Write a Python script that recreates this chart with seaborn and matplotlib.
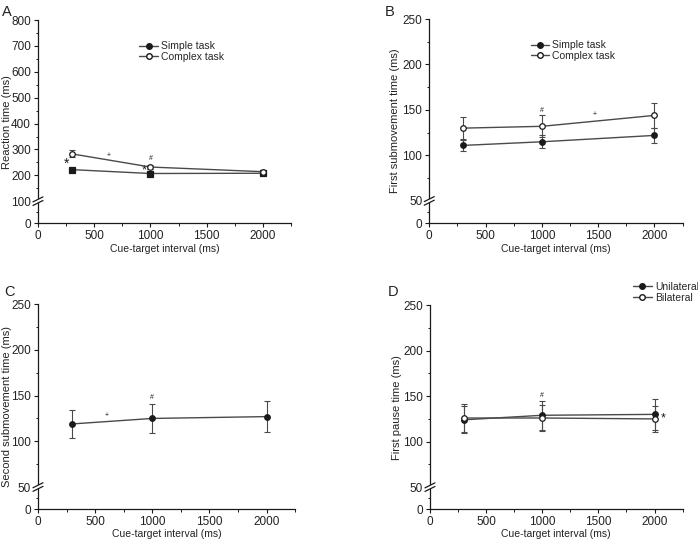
import numpy as np
import matplotlib
matplotlib.use('Agg')
import matplotlib.pyplot as plt
import matplotlib.transforms as mtransforms
from matplotlib.lines import Line2D
from matplotlib.patches import Polygon
from matplotlib.ticker import MultipleLocator
import seaborn as sns

cti = [300, 1000, 2000]

# A: reaction time
rt_simple = [222, 207, 208]
rt_simple_err = [4, 5, 5]
rt_complex = [283, 232, 214]
rt_complex_err = [13, 8, 6]

# B: first submovement time
fst_simple = [111, 115, 122]
fst_simple_err = [6, 7, 8]
fst_complex = [130, 132, 144]
fst_complex_err = [12, 12, 14]

# C: second submovement time
sst = [119, 125, 127]
sst_err = [15, 16, 17]

# D: first pause time
fpt_uni = [124, 129, 130]
fpt_uni_err = [15, 16, 17]
fpt_bi = [126, 126, 125]
fpt_bi_err = [15, 14, 14]

LINE = '#4a4a4a'
INK = '#1a1a1a'
MS = 4


def broken_scale(ax, brk, k):
  def fwd(y):
    y = np.asarray(y, float)
    return np.where(y < brk, y * k, brk * k + (y - brk))

  def inv(y):
    y = np.asarray(y, float)
    return np.where(y < brk * k, y / k, y - brk * k + brk)

  ax.set_yscale('function', functions=(fwd, inv))


def break_mark(fig, ax, brk):
  trans = fig.dpi_scale_trans + mtransforms.ScaledTranslation(0, brk, ax.get_yaxis_transform())
  w, s, g = 0.05, 0.025, 0.018
  poly = Polygon([(-w, -s - g), (w, s - g), (w, s + g), (-w, -s + g)], closed=True,
                 facecolor='white', edgecolor='none', transform=trans, clip_on=False, zorder=5)
  ax.add_patch(poly)
  for off in (-g, g):
    ax.add_line(Line2D([-w, w], [-s + off, s + off], color=INK, lw=0.9,
                       transform=trans, clip_on=False, zorder=6))


def series(ax, y, err, marker, filled, label=None):
  sns.lineplot(x=cti, y=y, ax=ax, color=LINE, lw=1.0, marker=marker, markersize=MS,
               markerfacecolor=INK if filled else 'white', markeredgecolor=INK,
               markeredgewidth=0.9, label=label, legend=False, zorder=4)
  ax.errorbar(cti, y, yerr=err, fmt='none', ecolor=LINE, elinewidth=0.8,
              capsize=2, capthick=0.8, zorder=3)


def style_axes(fig, ax, top, brk, k, ylabel, major, minor, label_px):
  broken_scale(ax, brk, k)
  ax.set_ylim(0, top)
  ax.set_xlim(0, 2250)
  ax.set_yticks(major)
  ax.yaxis.set_minor_locator(MultipleLocator(minor))
  ax.xaxis.set_major_locator(MultipleLocator(500))
  ax.xaxis.set_minor_locator(MultipleLocator(250))
  ax.set_xlabel('Cue-target interval (ms)', labelpad=1, fontsize=7.5)
  ax.set_ylabel(ylabel, fontsize=8, va='center')
  # y label centre placed at a fixed figure pixel column
  left, width = ax.get_position().x0 * 698, ax.get_position().width * 698
  ax.yaxis.set_label_coords((label_px - left) / width, 0.5)
  sns.despine(ax=ax)
  break_mark(fig, ax, brk)


def legend(ax, labels, anchor, bbox_trans):
  handles = [
    Line2D([], [], color=LINE, lw=1.0, marker='o', markersize=MS,
           markerfacecolor=INK, markeredgecolor=INK),
    Line2D([], [], color=LINE, lw=1.0, marker='o', markersize=MS,
           markerfacecolor='white', markeredgecolor=INK),
  ]
  ax.legend(handles, labels, loc='upper left', bbox_to_anchor=anchor,
            bbox_transform=bbox_trans, frameon=False, fontsize=7.5,
            handlelength=1.8, handletextpad=0.3, labelspacing=0.05,
            borderaxespad=0, borderpad=0)


def main():
  sns.set_style('ticks')
  plt.rcParams['font.family'] = ['Liberation Sans', 'DejaVu Sans']
  plt.rcParams.update({
    'font.size': 7.5,
    'axes.edgecolor': INK,
    'axes.linewidth': 0.9,
    'axes.labelcolor': '#222222',
    'xtick.color': INK,
    'ytick.color': INK,
    'xtick.labelcolor': '#222222',
    'ytick.labelcolor': '#222222',
    'xtick.labelsize': 8.5,
    'ytick.labelsize': 8.5,
    'xtick.direction': 'out',
    'ytick.direction': 'out',
    'xtick.major.size': 3,
    'ytick.major.size': 3,
    'xtick.minor.size': 1.8,
    'ytick.minor.size': 1.8,
    'xtick.major.width': 0.8,
    'ytick.major.width': 0.8,
    'xtick.minor.width': 0.7,
    'ytick.minor.width': 0.7,
    'xtick.major.pad': 2,
    'ytick.major.pad': 2,
  })

  fig = plt.figure(figsize=(6.98, 5.43), dpi=100)
  ax_a = fig.add_axes([0.0544, 0.589, 0.3626, 0.374])
  ax_b = fig.add_axes([0.615, 0.589, 0.363, 0.376])
  ax_c = fig.add_axes([0.0544, 0.0626, 0.3686, 0.3774])
  ax_d = fig.add_axes([0.616, 0.0626, 0.362, 0.3754])

  # A
  series(ax_a, rt_simple, rt_simple_err, 's', True)
  series(ax_a, rt_complex, rt_complex_err, 'o', False)
  style_axes(fig, ax_a, 800, 100, 0.85, 'Reaction time (ms)',
             [0, 100, 200, 300, 400, 500, 600, 700, 800], 50, 7)
  ax_a.text(255, 245, '*', ha='center', va='center', fontsize=10, color=INK)
  ax_a.text(942, 219, '*', ha='center', va='center', fontsize=9, color=INK)
  ax_a.text(631, 276, '+', ha='center', va='center', fontsize=5, color=INK)
  ax_a.text(1002, 264, '#', ha='center', va='center', fontsize=5, color=INK)
  legend(ax_a, ['Simple task', 'Complex task'], (0.40, 0.895), ax_a.transAxes)

  # B
  series(ax_b, fst_simple, fst_simple_err, 'o', True)
  series(ax_b, fst_complex, fst_complex_err, 'o', False)
  style_axes(fig, ax_b, 250, 50, 0.49, 'First submovement time (ms)',
             [0, 50, 100, 150, 200, 250], 25, 395)
  ax_b.text(1000, 149, '#', ha='center', va='center', fontsize=5, color=INK)
  ax_b.text(1470, 145, '+', ha='center', va='center', fontsize=5, color=INK)
  legend(ax_b, ['Simple task', 'Complex task'], (0.40, 0.895), ax_b.transAxes)

  # C
  series(ax_c, sst, sst_err, 'o', True)
  style_axes(fig, ax_c, 250, 50, 0.48, 'Second submovement time (ms)',
             [0, 50, 100, 150, 200, 250], 25, 7)
  ax_c.text(600, 128, '+', ha='center', va='center', fontsize=5, color=INK)
  ax_c.text(1000, 148, '#', ha='center', va='center', fontsize=5, color=INK)

  # D
  series(ax_d, fpt_uni, fpt_uni_err, 'o', True)
  series(ax_d, fpt_bi, fpt_bi_err, 'o', False)
  style_axes(fig, ax_d, 250, 50, 0.48, 'First pause time (ms)',
             [0, 50, 100, 150, 200, 250], 25, 397)
  ax_d.text(1000, 151, '#', ha='center', va='center', fontsize=5, color=INK)
  ax_d.text(2080, 125, '*', ha='center', va='center', fontsize=9, color=INK)
  legend(ax_d, ['Unilateral', 'Bilateral'], (633 / 698, 1 - 282 / 543), fig.transFigure)

  for letter, x, y in [('A', 2, 12), ('B', 385, 12), ('C', 4, 292), ('D', 388, 292)]:
    fig.text(x / 698, 1 - y / 543, letter, fontsize=10.5, ha='left', va='center', color='#222222')

  fig.savefig('out.png', dpi=100)


if __name__ == '__main__':
  main()
